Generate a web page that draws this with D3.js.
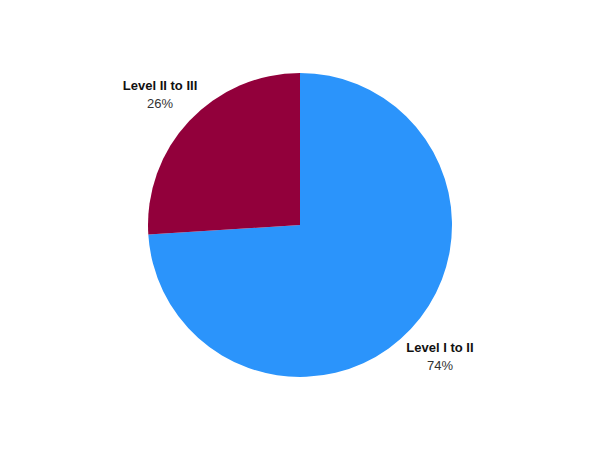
<!DOCTYPE html>
<html>
<head>
<meta charset="utf-8">
<script src="https://cdn.jsdelivr.net/npm/d3@7"></script>
<style>
  body { margin: 0; background: #fff; }
  svg { display: block; font-family: "Liberation Sans", Arial, sans-serif; }
</style>
</head>
<body>
<svg id="chart"></svg>
<script>
const categories = ["Level I to II", "Level II to III"];
const values = [74, 26];
const colors = ["#2b94fb", "#92003b"];

const width = 600;
const height = 450;
const radius = 152;

const svg = d3.select("#chart")
  .attr("width", width)
  .attr("height", height);

const g = svg.append("g")
  .attr("transform", "translate(" + 300 + "," + 225 + ")");

const data = categories.map((c, i) => ({ name: c, value: values[i], color: colors[i] }));

const pie = d3.pie().sort(null).value(d => d.value);
const arcs = pie(data);

const arc = d3.arc().innerRadius(0).outerRadius(radius);
// arc used only to place the labels outside the pie
const labelArc = d3.arc().innerRadius(radius + 40).outerRadius(radius + 40);

g.selectAll("path")
  .data(arcs)
  .enter()
  .append("path")
  .attr("d", arc)
  .attr("fill", d => d.data.color);

const total = d3.sum(values);

const labels = g.selectAll("g.label")
  .data(arcs)
  .enter()
  .append("g")
  .attr("class", "label")
  .attr("transform", d => "translate(" + labelArc.centroid(d) + ")");

labels.append("text")
  .attr("text-anchor", "middle")
  .attr("y", -4)
  .style("font-size", "13px")
  .style("font-weight", "bold")
  .attr("fill", "#111")
  .text(d => d.data.name);

labels.append("text")
  .attr("text-anchor", "middle")
  .attr("y", 14)
  .style("font-size", "13px")
  .attr("fill", "#333")
  .text(d => Math.round(d.data.value / total * 100) + "%");
</script>
</body>
</html>
